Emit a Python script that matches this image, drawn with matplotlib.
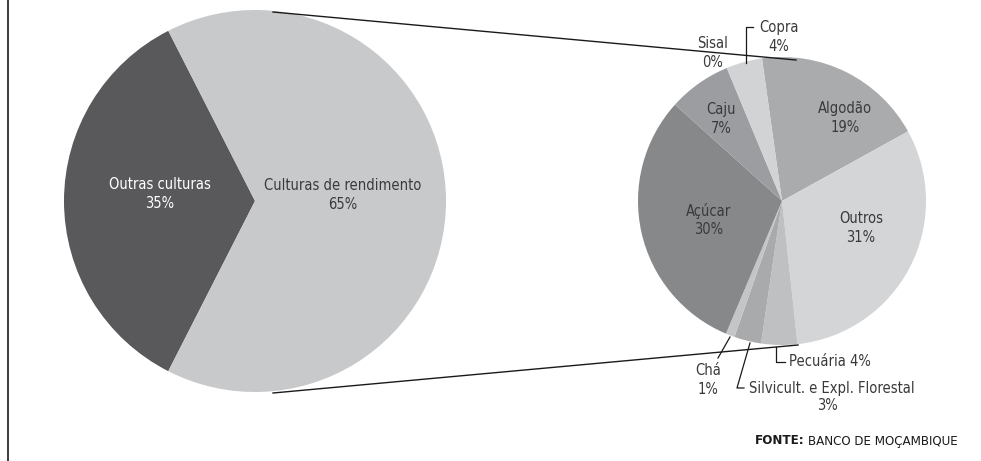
import matplotlib.pyplot as plt

# data
main_labels = ['Outras culturas', 'Culturas de rendimento']
main_values = [35, 65]
main_colors = ['#59595b', '#c8c9cb']

sub_labels = ['Algodão', 'Outros', 'Pecuária', 'Silvicult. e Expl. Florestal',
              'Chá', 'Açúcar', 'Caju', 'Sisal', 'Copra']
sub_values = [19, 31, 4, 3, 1, 30, 7, 0, 4]
sub_colors = ['#aaabad', '#d4d5d7', '#bfc0c2', '#a9aaac', '#c4c5c7',
              '#87888a', '#9c9da0', '#b0b1b3', '#d2d3d5']

plt.rcParams['font.family'] = ['DejaVu Sans']
plt.rcParams['font.stretch'] = 'condensed'
FS = 10.5
TXT = '#3a3a3c'

W, H = 981, 461
fig = plt.figure(figsize=(W / 100, H / 100), dpi=100)
ax = fig.add_axes([0, 0, 1, 1])

def Y(py):
    return H - py

# big pie
c1, r1 = (255, Y(201)), 191
ax.pie(main_values, colors=main_colors, center=c1, radius=r1,
       startangle=180 - 35 * 1.8, counterclock=True, normalize=True,
       wedgeprops=dict(linewidth=0))

# small pie
c2, r2 = (782, Y(201)), 144
ax.pie(sub_values, colors=sub_colors, center=c2, radius=r2,
       startangle=98, counterclock=False, normalize=True,
       wedgeprops=dict(linewidth=0))

ax.set_xlim(0, W)
ax.set_ylim(0, H)
ax.set_aspect('equal')
ax.axis('off')

# connectors
ax.plot([273, 796], [Y(12), Y(60)], color='#1a1a1a', lw=1)
ax.plot([273, 798], [Y(393), Y(345)], color='#1a1a1a', lw=1)

# frame line on the left
ax.plot([8, 8], [0, H], color='#1a1a1a', lw=1.2)

# labels big pie
ax.text(160, Y(194), f'{main_labels[0]}\n{main_values[0]}%', color='white',
        ha='center', va='center', fontsize=FS, linespacing=1.3)
ax.text(343, Y(195), f'{main_labels[1]}\n{main_values[1]}%', color=TXT,
        ha='center', va='center', fontsize=FS, linespacing=1.3)

# labels small pie
pos = {
    'Algodão': (845, 118),
    'Outros': (861, 228),
    'Açúcar': (709, 220),
    'Caju': (721, 119),
    'Sisal': (713, 53),
    'Copra': (779, 37),
    'Chá': (708, 380),
}
for lab, val in zip(sub_labels, sub_values):
    if lab in pos:
        x, y = pos[lab]
        ax.text(x, Y(y), f'{lab}\n{val}%', color=TXT, ha='center', va='center',
                fontsize=FS, linespacing=1.3)

ax.text(789, Y(362), f'{sub_labels[2]} {sub_values[2]}%', color=TXT,
        ha='left', va='center', fontsize=FS)
ax.text(749, Y(388), sub_labels[3], color=TXT, ha='left', va='center', fontsize=FS)
ax.text(827, Y(406), f'{sub_values[3]}%', color=TXT, ha='center', va='center', fontsize=FS)

# leader lines
lk = dict(color='#1a1a1a', lw=0.9)
ax.plot([746, 746, 753], [Y(63), Y(27), Y(27)], **lk)
ax.plot([776, 776, 785], [Y(347), Y(362), Y(362)], **lk)
ax.plot([750, 737, 744], [Y(343), Y(388), Y(388)], **lk)
ax.plot([730, 718], [Y(337), Y(358)], **lk)

# source
src = ax.text(958, Y(441), 'BANCO DE MOÇAMBIQUE', color='#1a1a1a', ha='right',
              va='center', fontsize=9.5)
fig.canvas.draw()
bb = src.get_window_extent()
ax.text(bb.x0 - 4, Y(441), 'FONTE:', color='#1a1a1a', ha='right', va='center',
        fontsize=9.5, fontweight='bold')

fig.savefig('out.png', dpi=100)
